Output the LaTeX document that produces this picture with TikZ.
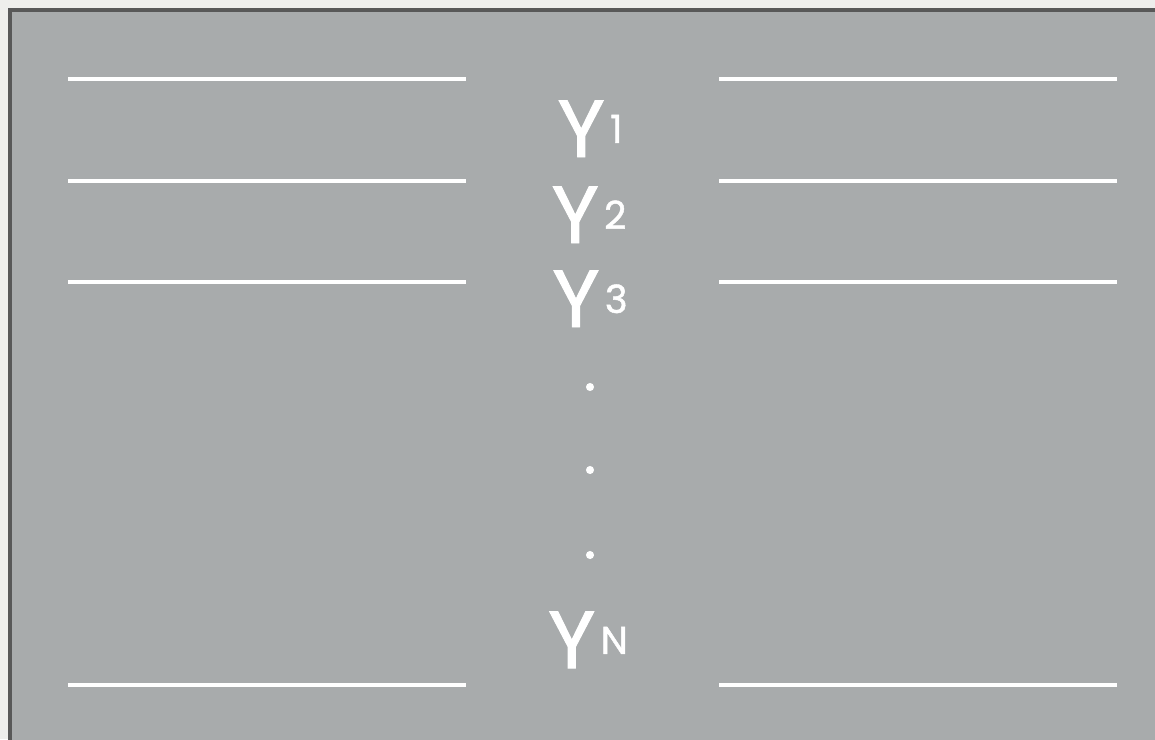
\documentclass[tikz,border=0pt]{standalone}
\usepackage{fontspec}
\setmainfont{Poppins}
\newfontfamily\handfont[FakeBold=1.2]{Poppins}
\usepackage{xcolor}
\usepackage{tikz}
\usetikzlibrary{positioning}
\definecolor{paperback}{RGB}{238,238,236}
\definecolor{slategray}{RGB}{168,171,172}
\definecolor{frameedge}{RGB}{88,88,88}
\newcommand{\ylabel}[1]{Y\hspace{1.5pt}\raisebox{4pt}{\fontsize{11}{11}\selectfont #1}}
\begin{document}
\begin{tikzpicture}[x=0.01cm,y=-0.01cm,
    rowline/.style={white,line width=1.4pt},
    ylab/.style={text=white,font=\handfont\fontsize{23}{23}\selectfont,anchor=base,inner sep=0pt},
    gap/.style={circle,fill=white,inner sep=0pt,minimum size=2.3pt}]
    \useasboundingbox (0,0) rectangle (1155,739);
    \clip (0,0) rectangle (1155,739);
    % paper and panel
    \fill[paperback] (0,0) rectangle (1155,739);
    \draw[frameedge,line width=1.1pt,fill=slategray] (10,10) rectangle (1170,760);
    % rules on both sides
    \foreach \y in {79,181,282,685}{
      \draw[rowline] (68,\y) -- (466,\y);
      \draw[rowline] (719,\y) -- (1117,\y);}
    % the labels
    \node[ylab] (y1) at (590,157) {\ylabel{1}};
    \node[ylab] (y2) at (589,243) {\ylabel{2}};
    \node[ylab] (y3) at (590,327) {\ylabel{3}};
    \node[gap] (d1) at (590,387) {};
    \node[gap] (d2) at (590,470) {};
    \node[gap] (d3) at (590,555) {};
    \node[ylab] (yn) at (588,668) {\ylabel{N}};
  \end{tikzpicture}
\end{document}
